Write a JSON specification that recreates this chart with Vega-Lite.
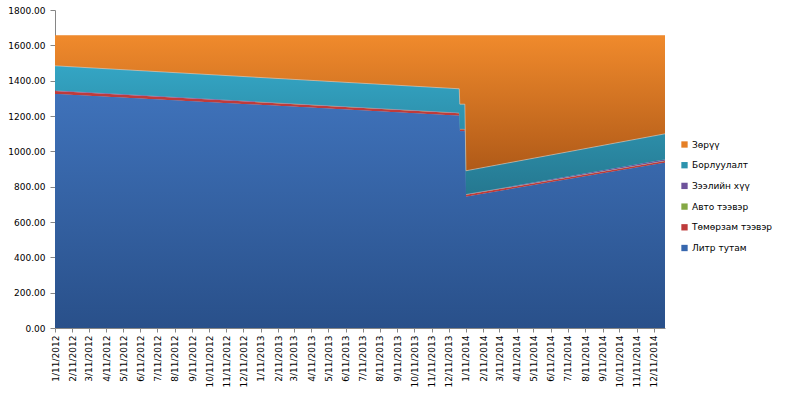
{
  "$schema": "https://vega.github.io/schema/vega-lite/v6.json",
  "width": 610,
  "height": 318,
  "autosize": "none",
  "padding": {"left": 55, "top": 10, "right": 121, "bottom": 67},
  "background": "#ffffff",
  "config": {
    "view": {"stroke": null},
    "font": "DejaVu Sans",
    "axis": {"labelFont": "DejaVu Sans", "labelFontSize": 9, "labelColor": "#000000", "domainColor": "#868686", "tickColor": "#868686", "grid": false, "title": null}
  },
  "data": {
    "values": [
      {"date": "2012-01-11", "s": "Литр тутам", "v": 1325},
      {"date": "2012-01-11", "s": "Төмөрзам тээвэр", "v": 16},
      {"date": "2012-01-11", "s": "Авто тээвэр", "v": 1},
      {"date": "2012-01-11", "s": "Зээлийн хүү", "v": 4},
      {"date": "2012-01-11", "s": "Борлуулалт", "v": 138},
      {"date": "2012-01-11", "s": "Зөрүү", "v": 171},
      {"date": "2013-12-30", "s": "Литр тутам", "v": 1202},
      {"date": "2013-12-30", "s": "Төмөрзам тээвэр", "v": 14},
      {"date": "2013-12-30", "s": "Авто тээвэр", "v": 1},
      {"date": "2013-12-30", "s": "Зээлийн хүү", "v": 3},
      {"date": "2013-12-30", "s": "Борлуулалт", "v": 134},
      {"date": "2013-12-30", "s": "Зөрүү", "v": 301},
      {"date": "2013-12-31", "s": "Литр тутам", "v": 1113},
      {"date": "2013-12-31", "s": "Төмөрзам тээвэр", "v": 12},
      {"date": "2013-12-31", "s": "Авто тээвэр", "v": 1},
      {"date": "2013-12-31", "s": "Зээлийн хүү", "v": 2},
      {"date": "2013-12-31", "s": "Борлуулалт", "v": 139},
      {"date": "2013-12-31", "s": "Зөрүү", "v": 388},
      {"date": "2014-01-09", "s": "Литр тутам", "v": 1113},
      {"date": "2014-01-09", "s": "Төмөрзам тээвэр", "v": 12},
      {"date": "2014-01-09", "s": "Авто тээвэр", "v": 1},
      {"date": "2014-01-09", "s": "Зээлийн хүү", "v": 2},
      {"date": "2014-01-09", "s": "Борлуулалт", "v": 139},
      {"date": "2014-01-09", "s": "Зөрүү", "v": 388},
      {"date": "2014-01-11", "s": "Литр тутам", "v": 743},
      {"date": "2014-01-11", "s": "Төмөрзам тээвэр", "v": 11},
      {"date": "2014-01-11", "s": "Авто тээвэр", "v": 1},
      {"date": "2014-01-11", "s": "Зээлийн хүү", "v": 3},
      {"date": "2014-01-11", "s": "Борлуулалт", "v": 132},
      {"date": "2014-01-11", "s": "Зөрүү", "v": 765},
      {"date": "2014-12-31", "s": "Литр тутам", "v": 935},
      {"date": "2014-12-31", "s": "Төмөрзам тээвэр", "v": 10},
      {"date": "2014-12-31", "s": "Авто тээвэр", "v": 2},
      {"date": "2014-12-31", "s": "Зээлийн хүү", "v": 8},
      {"date": "2014-12-31", "s": "Борлуулалт", "v": 144},
      {"date": "2014-12-31", "s": "Зөрүү", "v": 556}
    ]
  },
  "transform": [
    {"stack": "v", "groupby": ["date"], "as": ["y0", "y1"]}
  ],
  "encoding": {
    "x": {
      "field": "date",
      "type": "temporal",
      "scale": {"type": "utc", "domain": [{"year": 2012, "month": 1, "date": 11, "utc": true}, {"year": 2014, "month": 12, "date": 31, "utc": true}]},
      "axis": {
        "values": [
          {"year": 2012, "month": 1, "date": 11, "utc": true}, {"year": 2012, "month": 2, "date": 11, "utc": true}, {"year": 2012, "month": 3, "date": 11, "utc": true}, {"year": 2012, "month": 4, "date": 11, "utc": true}, {"year": 2012, "month": 5, "date": 11, "utc": true}, {"year": 2012, "month": 6, "date": 11, "utc": true}, {"year": 2012, "month": 7, "date": 11, "utc": true}, {"year": 2012, "month": 8, "date": 11, "utc": true}, {"year": 2012, "month": 9, "date": 11, "utc": true}, {"year": 2012, "month": 10, "date": 11, "utc": true}, {"year": 2012, "month": 11, "date": 11, "utc": true}, {"year": 2012, "month": 12, "date": 11, "utc": true},
          {"year": 2013, "month": 1, "date": 11, "utc": true}, {"year": 2013, "month": 2, "date": 11, "utc": true}, {"year": 2013, "month": 3, "date": 11, "utc": true}, {"year": 2013, "month": 4, "date": 11, "utc": true}, {"year": 2013, "month": 5, "date": 11, "utc": true}, {"year": 2013, "month": 6, "date": 11, "utc": true}, {"year": 2013, "month": 7, "date": 11, "utc": true}, {"year": 2013, "month": 8, "date": 11, "utc": true}, {"year": 2013, "month": 9, "date": 11, "utc": true}, {"year": 2013, "month": 10, "date": 11, "utc": true}, {"year": 2013, "month": 11, "date": 11, "utc": true}, {"year": 2013, "month": 12, "date": 11, "utc": true},
          {"year": 2014, "month": 1, "date": 11, "utc": true}, {"year": 2014, "month": 2, "date": 11, "utc": true}, {"year": 2014, "month": 3, "date": 11, "utc": true}, {"year": 2014, "month": 4, "date": 11, "utc": true}, {"year": 2014, "month": 5, "date": 11, "utc": true}, {"year": 2014, "month": 6, "date": 11, "utc": true}, {"year": 2014, "month": 7, "date": 11, "utc": true}, {"year": 2014, "month": 8, "date": 11, "utc": true}, {"year": 2014, "month": 9, "date": 11, "utc": true}, {"year": 2014, "month": 10, "date": 11, "utc": true}, {"year": 2014, "month": 11, "date": 11, "utc": true}, {"year": 2014, "month": 12, "date": 11, "utc": true}
        ],
        "format": "%-m/%d/%Y",
        "labelAngle": 270,
        "labelAlign": "right",
        "labelBaseline": "middle",
        "labelOverlap": false,
        "labelPadding": 3,
        "tickSize": 4
      }
    },
    "y": {
      "field": "y1",
      "type": "quantitative",
      "scale": {"domain": [0, 1800], "nice": false, "zero": true},
      "axis": {"values": [0, 200, 400, 600, 800, 1000, 1200, 1400, 1600, 1800], "format": ".2f", "tickSize": 5, "labelPadding": 5}
    },
    "y2": {"field": "y0"}
  },
  "layer": [
    {
      "mark": {"type": "area", "interpolate": "linear"},
      "encoding": {
        "color": {
          "field": "s",
          "type": "nominal",
          "scale": {
            "domain": ["Зөрүү", "Борлуулалт", "Зээлийн хүү", "Авто тээвэр", "Төмөрзам тээвэр", "Литр тутам"],
            "range": ["#E57F25", "#2C93AE", "#6E529B", "#84A844", "#BE3B3B", "#3767AE"]
          },
          "legend": {
            "orient": "none",
            "legendX": 625,
            "legendY": 130,
            "title": null,
            "symbolType": "square",
            "symbolSize": 40,
            "symbolStrokeWidth": 0,
            "labelFont": "DejaVu Sans",
            "labelFontSize": 9,
            "labelColor": "#000000",
            "labelOffset": 3,
            "rowPadding": 10.7
          }
        }
      }
    },
    {
      "transform": [{"filter": "datum.s === 'Литр тутам'"}],
      "mark": {"type": "area", "interpolate": "linear", "fill": {"gradient": "linear", "x1": 0, "y1": 0, "x2": 0, "y2": 1, "stops": [{"offset": 0, "color": "#3F72BA"}, {"offset": 1, "color": "#29508A"}]}}
    },
    {
      "transform": [{"filter": "datum.s === 'Борлуулалт'"}],
      "mark": {"type": "area", "interpolate": "linear", "fill": {"gradient": "linear", "x1": 0, "y1": 0, "x2": 0, "y2": 1, "stops": [{"offset": 0, "color": "#34A5C4"}, {"offset": 1, "color": "#257890"}]}}
    },
    {
      "transform": [{"filter": "datum.s === 'Зөрүү'"}],
      "mark": {"type": "area", "interpolate": "linear", "fill": {"gradient": "linear", "x1": 0, "y1": 0, "x2": 0, "y2": 1, "stops": [{"offset": 0, "color": "#F08A2C"}, {"offset": 1, "color": "#B05A18"}]}}
    },
    {
      "transform": [{"filter": "datum.s === 'Борлуулалт'"}],
      "mark": {"type": "line", "interpolate": "linear", "color": "#d6d6d6", "strokeWidth": 1, "opacity": 0.55},
      "encoding": {"y2": null}
    }
  ]
}
